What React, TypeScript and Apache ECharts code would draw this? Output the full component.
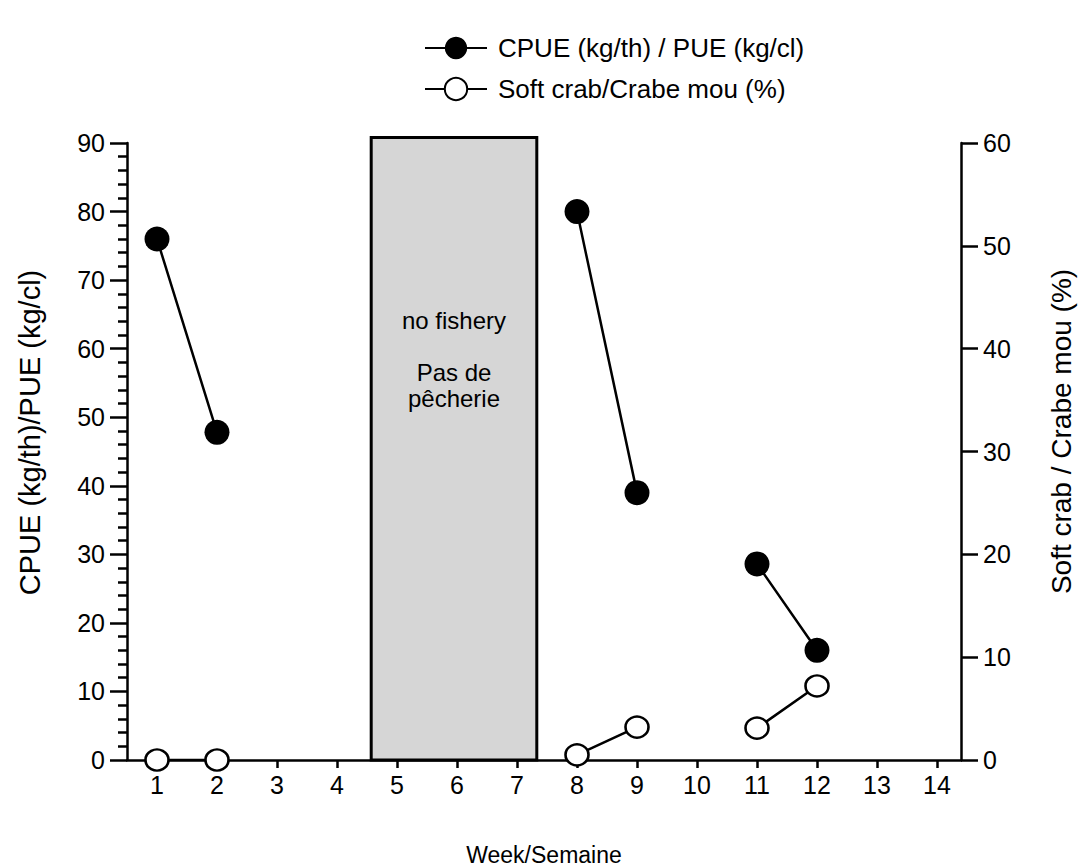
import React, { useEffect, useRef } from "react";
import * as echarts from "echarts";

const weekTicks = [1, 2, 3, 4, 5, 6, 7, 8, 9, 10, 11, 12, 13, 14];
const cpueWeeks = [1, 2, 5, 8, 9, 10, 11, 12];
const cpueValues: (number | string)[] = [76, 47.8, "-", 80, 39, "-", 28.6, 16];
const softWeeks = [1, 2, 5, 8, 9, 10, 11, 12];
const softValues: (number | string)[] = [0, 0, "-", 0.5, 3.2, "-", 3.1, 7.2];
const noFisheryStart = 4.57;
const noFisheryEnd = 7.33;
const noFisheryTop = 90.8;
const noFisheryText = "no fishery\n\nPas de\npêcherie";

const FONT = "'Liberation Sans', Arial, Helvetica, sans-serif";

export default function App() {
  const ref = useRef<HTMLDivElement>(null);
  useEffect(() => {
    document.body.style.margin = "0";
    const chart = echarts.init(ref.current!, undefined, { renderer: "svg" });
    const axisLine = { show: true, lineStyle: { color: "#000", width: 2.5 } };
    chart.setOption({
      animation: false,
      backgroundColor: "#fff",
      textStyle: { fontFamily: FONT, color: "#000" },
      grid: { left: 127, right: 120, top: 143, bottom: 107, containLabel: false, outerBoundsMode: "none" },
      legend: {
        orient: "vertical",
        left: 419,
        top: 30,
        itemWidth: 62,
        itemHeight: 28,
        itemGap: 15,
        textStyle: { fontSize: 26, color: "#000", fontFamily: FONT, padding: [0, 0, 0, 6] },
        data: ["CPUE (kg/th) / PUE (kg/cl)", "Soft crab/Crabe mou (%)"],
      },
      xAxis: {
        type: "value",
        min: 0.5,
        max: 14.4,
        name: "Week/Semaine",
        nameLocation: "middle",
        nameGap: 83,
        nameTextStyle: { fontSize: 23, color: "#000", fontFamily: FONT },
        axisLine,
        axisTick: { show: true, length: 8, customValues: weekTicks, lineStyle: { color: "#000", width: 2.5 } },
        axisLabel: { customValues: weekTicks, fontSize: 25, color: "#000", margin: 12, fontFamily: FONT },
        splitLine: { show: false },
      },
      yAxis: [
        {
          type: "value",
          min: 0,
          max: 90,
          interval: 10,
          position: "left",
          name: "CPUE (kg/th)/PUE (kg/cl)",
          nameLocation: "middle",
          nameRotate: 90,
          nameGap: 83,
          nameTextStyle: { fontSize: 29, color: "#000", fontFamily: FONT, padding: [0, 0, 0, 38] },
          axisLine,
          axisTick: { show: true, length: 17, lineStyle: { color: "#000", width: 2.5 } },
          minorTick: { show: true, splitNumber: 5, length: 9, lineStyle: { color: "#000", width: 2.5 } },
          axisLabel: { fontSize: 25, color: "#000", margin: 22, fontFamily: FONT },
          splitLine: { show: false },
          minorSplitLine: { show: false },
        },
        {
          type: "value",
          min: 0,
          max: 60,
          interval: 10,
          position: "right",
          name: "Soft crab / Crabe mou (%)",
          nameLocation: "middle",
          nameRotate: 90,
          nameGap: 86,
          nameTextStyle: { fontSize: 28, color: "#000", fontFamily: FONT, padding: [0, 0, 0, 40] },
          axisLine,
          axisTick: { show: true, length: 17, lineStyle: { color: "#000", width: 2.5 } },
          axisLabel: { fontSize: 25, color: "#000", margin: 22, fontFamily: FONT },
          splitLine: { show: false },
        },
      ],
      series: [
        {
          name: "noFishery",
          type: "custom",
          xAxisIndex: 0,
          yAxisIndex: 0,
          clip: false,
          silent: true,
          z: 1,
          encode: { x: [0, 1], y: 2 },
          data: [[noFisheryStart, noFisheryEnd, noFisheryTop]],
          renderItem: (params: any, api: any) => {
            const p0 = api.coord([api.value(0), 0]);
            const p1 = api.coord([api.value(1), api.value(2)]);
            return {
              type: "group",
              children: [
                {
                  type: "rect",
                  shape: { x: p0[0], y: p1[1], width: p1[0] - p0[0], height: p0[1] - p1[1] },
                  style: { fill: "#d6d6d6", stroke: "#000", lineWidth: 3 },
                },
                {
                  type: "text",
                  style: {
                    text: noFisheryText,
                    x: (p0[0] + p1[0]) / 2,
                    y: p1[1] + 170,
                    textAlign: "center",
                    textVerticalAlign: "top",
                    fontSize: 24,
                    lineHeight: 26,
                    fontFamily: FONT,
                    fill: "#000",
                  },
                },
              ],
            };
          },
        },
        {
          name: "CPUE (kg/th) / PUE (kg/cl)",
          type: "line",
          yAxisIndex: 0,
          data: cpueWeeks.map((w, i) => [w, cpueValues[i]]),
          symbol: "circle",
          symbolSize: 25,
          itemStyle: { color: "#000", borderColor: "#000", borderWidth: 0 },
          lineStyle: { color: "#000", width: 2.5 },
          connectNulls: false,
          z: 4,
        },
        {
          name: "Soft crab/Crabe mou (%)",
          type: "line",
          yAxisIndex: 1,
          data: softWeeks.map((w, i) => [w, softValues[i]]),
          symbol: "circle",
          symbolSize: [23, 21],
          itemStyle: { color: "#fff", borderColor: "#000", borderWidth: 2.5 },
          lineStyle: { color: "#000", width: 2.5 },
          connectNulls: false,
          z: 5,
        },
      ],
    });
    return () => chart.dispose();
  }, []);
  return <div ref={ref} style={{ width: 1081, height: 867 }} />;
}
